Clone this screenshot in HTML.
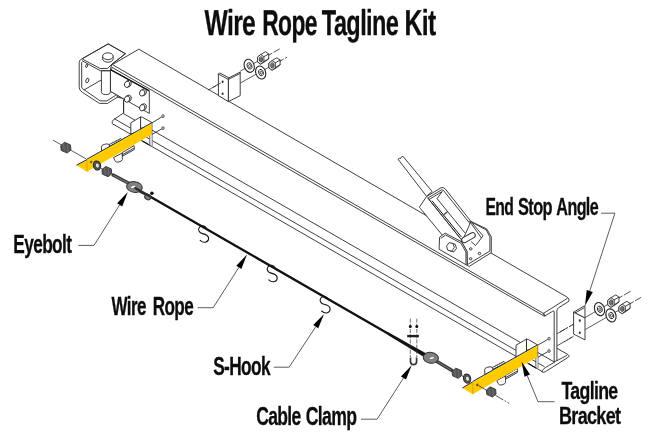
<!DOCTYPE html>
<html lang="en"><head><meta charset="utf-8"><title>Wire Rope Tagline Kit</title>
<style>
html,body{margin:0;padding:0;background:#fff;}
svg{display:block}
.l{fill:none;stroke:#2a2a2a;stroke-width:.9;stroke-linecap:round;stroke-linejoin:round}
.l2{fill:none;stroke:#111;stroke-width:1.2}
.l2b{fill:none;stroke:#111;stroke-width:1.0}
.pin1{stroke:#2a2a2a;stroke-width:6.2;stroke-linecap:round}
.pin2{stroke:#fff;stroke-width:4.4;stroke-linecap:round}
.tick{fill:none;stroke:#555;stroke-width:1.4}
.w{fill:#fff;stroke:#2a2a2a;stroke-width:.9;stroke-linejoin:round}
.g{fill:#e4e4e4;stroke:#888;stroke-width:.6}
.wk{fill:#fff;stroke:#222;stroke-width:1.1}
.wk2{fill:#fff;stroke:#222;stroke-width:.9}
.wk3{fill:#fff;stroke:#222;stroke-width:.7}
.thr{fill:#888;stroke:#333;stroke-width:.7}
.wkd{fill:#555;stroke:#222;stroke-width:1}
.wkh{fill:#e8e8e8;stroke:#222;stroke-width:.6}
.dk{fill:#565656;stroke:#333;stroke-width:.9;stroke-linejoin:round}
.hl{stroke:#777;stroke-width:.7;fill:none}
.thl{stroke:#555;stroke-width:.5;fill:none}
.cl{fill:none;stroke:#2a2a2a;stroke-width:.8;stroke-dasharray:9 1.6 1.6 1.6}
.cs{fill:none;stroke:#2a2a2a;stroke-width:.8;stroke-dasharray:16 1.4 1.8 1.4}
.cd{fill:none;stroke:#2a2a2a;stroke-width:.8;stroke-dasharray:5.5 1.6 8}
.cl2{fill:none;stroke:#333;stroke-width:.7;stroke-dasharray:4 1.2}
.dot{fill:#333;stroke:none}
.dot2{fill:#7a5a00;stroke:#333;stroke-width:.4}
.scr{fill:#ccc;stroke:#333;stroke-width:.7}
.y{fill:#ffcb00;stroke:none}
.yhi{stroke:#ffdc00;stroke-width:1;fill:none}
.navy{stroke:#1c2a55;stroke-width:1;fill:none}
.ysh{stroke:#c99700;stroke-width:.8;fill:none}
.shk1{stroke:#333;stroke-width:3.4;stroke-linecap:round}
.shk2{stroke:#707070;stroke-width:1.2;stroke-linecap:round}
.wire{stroke:#111;stroke-width:2.3;fill:none}
.wire2b{stroke:#2a2a2a;stroke-width:2.4;fill:none;stroke-linecap:round}
.hole2{fill:#fff;stroke:none}
.wire2{stroke:#222;stroke-width:1.6;fill:none}
.wire3{stroke:#222;stroke-width:1.2;fill:none}
.gr{fill:#808080;stroke:#333;stroke-width:1}
.blk{fill:#111;stroke:none}
.blkf{fill:#111;stroke:#111;stroke-width:.4}
.hole{fill:#f4f4f4;stroke:#333;stroke-width:.5}
.hook{fill:none;stroke:#111;stroke-width:1.1;stroke-linecap:round}
.saddle{stroke:#222;stroke-width:2.4}
.ubolt{fill:none;stroke:#383838;stroke-width:1.7}
.ld{fill:none;stroke:#333;stroke-width:.8}
.ah{fill:#000;stroke:none}
svg{will-change:transform}
text{font-family:"Liberation Sans",sans-serif;font-weight:bold;fill:#0d0d0d;letter-spacing:-0.9px;stroke:#0d0d0d;stroke-width:.3px;stroke-linejoin:round}
</style></head>
<body>
<svg width="650" height="447" viewBox="0 0 650 447">
<rect width="650" height="447" fill="#fff"/>
<path class="w" d="M112.4,64.6 L138.8,49.2 L567.3,297.2 Q569.6,298.6 568.9,301.3 L558.6,307.7 Q556.9,308.8 556.9,311 L556.9,360.4 L554.2,362 L554.2,312 Q554.2,310.3 552.6,311.3 L544.9,315.9 L543.4,313.4 Z" />
<line class="l" x1="543.7" y1="313.2" x2="567.3" y2="298.4" />
<line class="l" x1="111.8" y1="67.2" x2="544.3" y2="316.2" />
<path class="l" d="M543.7,313.2 Q543.2,315 544.9,315.9" />
<line class="l" x1="123.8" y1="113.78" x2="554.2" y2="361.95" />
<line class="l" x1="114.6" y1="118.87" x2="544.2" y2="366.58" />
<line class="l" x1="114" y1="124.63" x2="542.6" y2="371.76" />
<line class="l2" x1="142.3" y1="140.9" x2="151.2" y2="146.1" />
<line class="l2" x1="528.4" y1="363.6" x2="536.2" y2="368.2" />
<path class="l" d="M123.6,100 L123.6,113 L113.6,119.6 Q111.6,121.5 112.3,123.5 Q112.6,125 114,124.63" />
<path class="l" d="M557.3,348.5 L567.9,354.5 Q570.2,355.8 568.3,357.2 L545.5,371.6 Q543.5,372.9 541.8,371.8" />
<line class="l" x1="566.7" y1="355.5" x2="557" y2="360.6" />
<path class="l" d="M554.3,362.3 L545.4,367.6 Q543.4,368.6 542.4,370.4" />
<path class="w" d="M81.7,59 Q79.2,60 79.2,62.5 L79.2,87.4 Q79.4,90.6 82.3,92.3 L99.5,103.4 L107.5,103.4 L117.4,97.2 L123.5,98.5 L110.5,91 L110.5,69 L111.8,64.3 L125.4,53.7 L108.2,43.9 Z" />
<path class="l" d="M83,58.3 L108.2,43.9 L125.4,53.7 L111.8,64.3 L107.5,68.5 L100.2,68.5 L82.6,59.2" />
<polyline class="l" points="82.3,60.8 100.2,70.7 109.4,70.7 112,68.6" />
<path class="l" d="M81.7,62.4 L81.7,87 Q81.9,88.9 84.2,89.8 L100.2,100.9 L106.9,100.9 L115.5,95.4" />
<line class="l" x1="84.2" y1="89.8" x2="100.8" y2="80.3" />
<ellipse class="w" cx="86.6" cy="65.8" rx="1" ry="1.7" transform="rotate(20 86.6 65.8)" />
<ellipse class="w" cx="87.3" cy="80.5" rx="1.4" ry="2.4" transform="rotate(20 87.3 80.5)" />
<path class="w" d="M101.4,70.9 L101.4,91.5 A4.5,3.1 0 0 0 110.4,91.5 L110.4,70.9 Z" />
<line class="l" x1="110.4" y1="91.3" x2="123.5" y2="98.7" />
<line class="l" x1="117.4" y1="95.3" x2="117.4" y2="97.2" />
<path class="w" d="M102.6,56.3 L102.6,58.8 A5.3,3.4 0 0 0 113.2,58.8 L113.2,56.3" />
<ellipse class="w" cx="107.9" cy="56.2" rx="5.3" ry="3.4" />
<polygon class="w" points="110.5,69.6 149.3,90.9 149.3,113.4 110.5,91.4" />
<line class="l2" x1="110.5" y1="69.6" x2="149.3" y2="90.9" />
<ellipse class="w" cx="128.5" cy="83.6" rx="2.7" ry="3.3" transform="rotate(18 128.5 83.6)" />
<ellipse class="w" cx="127.1" cy="84.3" rx="2.6" ry="3.2" transform="rotate(18 127.1 84.3)" />
<ellipse class="w" cx="143.6" cy="92.2" rx="2.7" ry="3.3" transform="rotate(18 143.6 92.2)" />
<ellipse class="w" cx="142.2" cy="92.9" rx="2.6" ry="3.2" transform="rotate(18 142.2 92.9)" />
<ellipse class="w" cx="128.5" cy="98.4" rx="2.7" ry="3.3" transform="rotate(18 128.5 98.4)" />
<ellipse class="w" cx="127.1" cy="99.1" rx="2.6" ry="3.2" transform="rotate(18 127.1 99.1)" />
<ellipse class="w" cx="143.6" cy="107" rx="2.7" ry="3.3" transform="rotate(18 143.6 107)" />
<ellipse class="w" cx="142.2" cy="107.7" rx="2.6" ry="3.2" transform="rotate(18 142.2 107.7)" />
<line class="l" x1="123.6" y1="100.2" x2="123.6" y2="113" />
<line class="cl" x1="208.3" y1="90.1" x2="222.6" y2="81.8" />
<line class="ld" x1="240.2" y1="71.2" x2="263.1" y2="58.2" />
<line class="cd" x1="267.5" y1="55.8" x2="279.7" y2="48.9" />
<line class="ld" x1="240.2" y1="83.1" x2="274.5" y2="64.1" />
<line class="cd" x1="278.9" y1="61.7" x2="287.1" y2="57.2" />
<polygon class="w" points="218.4,74.1 228.4,79.4 228.4,101.6 218.4,95.6" />
<polygon class="w" points="228.4,79.4 240.2,73.4 240.2,95.6 228.4,101.6" />
<polyline class="l" points="218.4,74.1 219.6,72.9 229,77.9 240.2,72 240.2,73.4" />
<polyline class="l" points="229,77.9 228.4,79.4" />
<ellipse class="dot" cx="222.6" cy="81.8" rx="1" ry="1.3" />
<ellipse class="dot" cx="222.6" cy="93.8" rx="1" ry="1.3" />
<line class="cl" x1="213" y1="87.4" x2="222.6" y2="81.8" />
<ellipse class="wk" cx="249.2" cy="65.8" rx="4.9" ry="6.7" transform="rotate(-20 249.2 65.8)" />
<ellipse class="wk2" cx="249.5" cy="65.9" rx="2.3" ry="3.3" transform="rotate(-20 249.5 65.9)" />
<ellipse class="wk3" cx="249.7" cy="66" rx="1" ry="1.6" transform="rotate(-20 249.7 66)" />
<ellipse class="wk" cx="260.7" cy="72.5" rx="4.9" ry="6.7" transform="rotate(-20 260.7 72.5)" />
<ellipse class="wk2" cx="261" cy="72.6" rx="2.3" ry="3.3" transform="rotate(-20 261 72.6)" />
<ellipse class="wk3" cx="261.2" cy="72.7" rx="1" ry="1.6" transform="rotate(-20 261.2 72.7)" />
<polygon class="w" points="260.7,64.1 257.5,61.9 257.5,57.1 260.7,54.5 265.5,51.7 268.7,53.9 268.7,58.7 265.5,61.3" />
<polygon class="w" points="260.7,54.5 263.9,56.7 263.9,61.5 260.7,64.1 257.5,61.9 257.5,57.1" />
<line class="l" x1="263.9" y1="56.7" x2="268.7" y2="53.9" />
<line class="l" x1="263.9" y1="61.5" x2="268.7" y2="58.7" />
<ellipse class="wk2" cx="260.9" cy="59.3" rx="1.7" ry="2.6" />
<ellipse class="thr" cx="261.1" cy="59.3" rx="0.9" ry="1.6" />
<polygon class="w" points="272.1,70.2 268.9,68 268.9,63.2 272.1,60.6 276.9,57.8 280.1,60 280.1,64.8 276.9,67.4" />
<polygon class="w" points="272.1,60.6 275.3,62.8 275.3,67.6 272.1,70.2 268.9,68 268.9,63.2" />
<line class="l" x1="275.3" y1="62.8" x2="280.1" y2="60" />
<line class="l" x1="275.3" y1="67.6" x2="280.1" y2="64.8" />
<ellipse class="wk2" cx="272.3" cy="65.4" rx="1.7" ry="2.6" />
<ellipse class="thr" cx="272.5" cy="65.4" rx="0.9" ry="1.6" />
<polygon class="w" points="130.8,122.8 140.6,116.9 140.6,131 130.8,134" />
<polygon class="w" points="140.6,116.9 142.5,117.3 151.9,122.5 151.9,146 149.8,145 149.8,128 140.6,128" />
<polygon class="g" points="149.8,134 152.2,134 152.2,146.2 149.8,145" />
<line class="l" x1="152" y1="122.9" x2="161.6" y2="117" />
<line class="l" x1="152.4" y1="134.2" x2="161.6" y2="129" />
<ellipse class="scr" cx="163" cy="116.1" rx="1.25" ry="1.45" />
<ellipse class="scr" cx="163" cy="128.1" rx="1.25" ry="1.45" />
<path class="w" d="M101.7,151.6 L101.4,147.1 Q101.6,144.7 104.3,144.4 L106.8,143.9 Q109.4,143.7 110,146.1 L110.6,148.6 Z" />
<path class="w" d="M110.2,147.9 L109.4,144.4 L120.8,138.5 L121.9,139.7 L122.8,143.1 Z" />
<line class="l" x1="110" y1="146.4" x2="121.3" y2="140.6" />
<line class="thl" x1="111.88" y1="143.22" x2="112.38" y2="145.12" />
<line class="thl" x1="114.16" y1="142.04" x2="114.66" y2="143.94" />
<line class="thl" x1="116.44" y1="140.86" x2="116.94" y2="142.76" />
<line class="thl" x1="118.72" y1="139.68" x2="119.22" y2="141.58" />
<path class="w" d="M113.6,157.6 L114.8,160.6 Q116.1,162.7 118.8,162 L121.4,160.9 Q122.8,159.7 122.4,157.3 L122,153.1 Z" />
<path class="w" d="M122.3,152.6 L122.7,156.1 L134.1,149.7 L134.5,147.7 L134,145.6 Z" />
<line class="l" x1="123.2" y1="154.3" x2="133.7" y2="148.3" />
<line class="thl" x1="125.2" y1="154.66" x2="124.8" y2="152.86" />
<line class="thl" x1="127.4" y1="153.42" x2="127" y2="151.62" />
<line class="thl" x1="129.6" y1="152.18" x2="129.2" y2="150.38" />
<line class="thl" x1="131.8" y1="150.94" x2="131.4" y2="149.14" />
<line class="ld" x1="53.1" y1="140.2" x2="86.2" y2="158.9" />
<polygon class="dk" points="60.7,145.7 64.6,142.3 70.5,144.9 70.9,150 67.1,153 61.2,150.4" />
<line class="hl" x1="63.5" y1="143.8" x2="64.3" y2="151.4" />
<line class="hl" x1="67.4" y1="144.2" x2="68" y2="151.6" />
<polygon class="y" points="76.5,165.2 86.9,159.6 86.9,171.7" />
<polygon class="y" points="86.9,159.6 151.7,123.2 151.7,134.5 86.9,171.7" />
<line class="yhi" x1="86.9" y1="160.3" x2="151.7" y2="123.9" />
<line class="navy" x1="86.9" y1="159.2" x2="151.7" y2="122.8" />
<line class="navy" x1="76.5" y1="165.2" x2="86.9" y2="159.6" />
<line class="ysh" x1="86.9" y1="160.2" x2="86.9" y2="171.5" />
<ellipse class="dot2" cx="91.1" cy="162" rx="0.9" ry="1.1" />
<ellipse class="wkd" cx="97" cy="165.5" rx="3.6" ry="4.6" transform="rotate(-15 97 165.5)" />
<ellipse class="wkh" cx="97.4" cy="165.6" rx="1.9" ry="2.6" transform="rotate(-15 97.4 165.6)" />
<line class="cl" x1="99.5" y1="167.3" x2="103" y2="169.2" />
<polygon class="dk" points="101.9,169.67 105.65,166.4 111.31,168.9 111.7,173.8 108.05,176.68 102.38,174.18" />
<line class="hl" x1="104.59" y1="167.84" x2="105.36" y2="175.14" />
<line class="hl" x1="108.34" y1="168.23" x2="108.91" y2="175.33" />
<line class="shk1" x1="113.1" y1="175.1" x2="129.2" y2="183.6" />
<line class="shk2" x1="113.6" y1="175.4" x2="129.2" y2="183.6" />
<line class="wire" x1="150" y1="196.42" x2="407" y2="344.61" />
<line class="wire3" x1="139" y1="191.6" x2="150" y2="197.22" />
<ellipse class="gr" cx="147.8" cy="197" rx="3.2" ry="2.6" transform="rotate(30 147.8 197)" />
<ellipse class="blk" cx="151.9" cy="193.2" rx="1.8" ry="1.8" />
<ellipse class="gr" cx="134.4" cy="187" rx="7.9" ry="5.4" transform="rotate(8 134.4 187)" />
<line class="wire2b" x1="135.5" y1="188.2" x2="150" y2="196.22" />
<ellipse class="hole2" cx="133.2" cy="186.9" rx="2.3" ry="0.9" transform="rotate(-20 133.2 186.9)" />
<path class="hook" d="M206.3,228.2 C205.5,225.3 201.3,224.8 199.4,227.3 C197.3,230.2 199.5,233 202.5,233.6 C205.5,234.2 208.4,235.2 208.6,238.2 C208.8,242 204,244 200.2,240.3" />
<path class="hook" d="M274.9,267.7 C274.1,264.8 269.9,264.3 268,266.8 C265.9,269.7 268.1,272.5 271.1,273.1 C274.1,273.7 277,274.7 277.2,277.7 C277.4,281.5 272.6,283.5 268.8,279.8" />
<path class="hook" d="M327.8,298.9 C327,296 322.8,295.5 320.9,298 C318.8,300.9 321,303.7 324,304.3 C327,304.9 329.9,305.9 330.1,308.9 C330.3,312.7 325.5,314.7 321.7,311" />
<path class="blkf" d="M388,332.55 L426.5,353.85 L425,357.38 L388,334.75 Z" />
<line class="cl2" x1="410.3" y1="318.6" x2="410.3" y2="357" />
<line class="cl2" x1="416.8" y1="318.6" x2="416.8" y2="357" />
<ellipse class="blk" cx="410.3" cy="326.6" rx="1.5" ry="1.5" />
<ellipse class="blk" cx="416.8" cy="326.6" rx="1.5" ry="1.5" />
<line class="saddle" x1="407.2" y1="336.1" x2="418.9" y2="336.1" />
<path class="ubolt" d="M410.5,357.4 L410.5,361.6 A3.05,3.05 0 0 0 416.6,361.6 L416.6,357.4" />
<line class="shk1" x1="436.9" y1="361.5" x2="451.7" y2="370.2" />
<line class="shk2" x1="436.9" y1="361.5" x2="451.2" y2="369.9" />
<ellipse class="gr" cx="430.8" cy="357.8" rx="7.6" ry="5.4" transform="rotate(8 430.8 357.8)" />
<ellipse class="hole2" cx="431.8" cy="358" rx="2.2" ry="0.9" transform="rotate(-15 431.8 358)" />
<polygon class="dk" points="452.05,371.38 455.76,368.15 461.36,370.62 461.75,375.47 458.13,378.32 452.53,375.85" />
<line class="hl" x1="454.71" y1="369.58" x2="455.47" y2="376.8" />
<line class="hl" x1="458.42" y1="369.96" x2="458.99" y2="376.99" />
<line class="cl" x1="461.5" y1="375.6" x2="464" y2="377" />
<ellipse class="wkd" cx="467.1" cy="378.6" rx="3.6" ry="4.7" transform="rotate(-15 467.1 378.6)" />
<ellipse class="wkh" cx="467.5" cy="378.7" rx="1.9" ry="2.6" transform="rotate(-15 467.5 378.7)" />
<polygon class="w" points="516,345.2 526.5,339.1 526.5,353 516,358" />
<polygon class="w" points="526.5,339.1 528.2,339.4 537.7,345 537.7,368.3 536,367.4 536,350 526.5,350" />
<line class="l" x1="526.5" y1="339.1" x2="526.5" y2="351.5" />
<polygon class="g" points="536,356.5 538,356.5 538,368.5 536,367.4" />
<line class="l" x1="537.9" y1="345.1" x2="547.4" y2="339.6" />
<line class="l" x1="538.2" y1="357.1" x2="547.4" y2="351.9" />
<ellipse class="scr" cx="549" cy="338.7" rx="1.25" ry="1.45" />
<ellipse class="scr" cx="549" cy="351" rx="1.25" ry="1.45" />
<line class="cl" x1="557.2" y1="333.64" x2="573.4" y2="324.29" />
<line class="ld" x1="585.2" y1="317.48" x2="613.4" y2="301.21" />
<line class="cd" x1="617.8" y1="298.67" x2="630.7" y2="291.23" />
<line class="cl" x1="557.2" y1="345.74" x2="573.4" y2="336.39" />
<line class="ld" x1="585.2" y1="329.58" x2="624.5" y2="306.91" />
<line class="cd" x1="628.9" y1="304.37" x2="641.1" y2="297.33" />
<line class="cl" x1="560" y1="332" x2="573.4" y2="324.29" />
<line class="cl" x1="564" y1="342" x2="573.4" y2="336.39" />
<path class="w" d="M484.9,374.5 L484.6,370 Q484.8,367.6 487.5,367.3 L490,366.8 Q492.6,366.6 493.2,369 L493.8,371.5 Z" />
<path class="w" d="M493.4,370.8 L492.6,367.3 L504,361.4 L505.1,362.6 L506,366 Z" />
<line class="l" x1="493.2" y1="369.3" x2="504.5" y2="363.5" />
<line class="thl" x1="495.08" y1="366.12" x2="495.58" y2="368.02" />
<line class="thl" x1="497.36" y1="364.94" x2="497.86" y2="366.84" />
<line class="thl" x1="499.64" y1="363.76" x2="500.14" y2="365.66" />
<line class="thl" x1="501.92" y1="362.58" x2="502.42" y2="364.48" />
<path class="w" d="M496.8,380.5 L498,383.5 Q499.3,385.6 502,384.9 L504.6,383.8 Q506,382.6 505.6,380.2 L505.2,376 Z" />
<path class="w" d="M505.5,375.5 L505.9,379 L517.3,372.6 L517.7,370.6 L517.2,368.5 Z" />
<line class="l" x1="506.4" y1="377.2" x2="516.9" y2="371.2" />
<line class="thl" x1="508.4" y1="377.56" x2="508" y2="375.76" />
<line class="thl" x1="510.6" y1="376.32" x2="510.2" y2="374.52" />
<line class="thl" x1="512.8" y1="375.08" x2="512.4" y2="373.28" />
<line class="thl" x1="515" y1="373.84" x2="514.6" y2="372.04" />
<polygon class="y" points="462.3,388 472.8,381.8 472.8,394.2" />
<polygon class="y" points="472.8,381.8 537.5,345.2 537.5,356.9 472.8,394.2" />
<line class="yhi" x1="472.8" y1="382.5" x2="537.5" y2="345.9" />
<line class="navy" x1="472.8" y1="381.4" x2="537.5" y2="344.8" />
<line class="navy" x1="462.3" y1="388" x2="472.8" y2="381.8" />
<line class="ysh" x1="472.8" y1="382.4" x2="472.8" y2="394" />
<ellipse class="dot2" cx="477.3" cy="384.9" rx="0.9" ry="1.1" />
<line class="cl" x1="478.5" y1="385.6" x2="486.5" y2="390.2" />
<line class="cl" x1="495.5" y1="395.4" x2="509.2" y2="403.4" />
<polygon class="dk" points="486.35,390.08 490.06,386.85 495.66,389.32 496.05,394.17 492.44,397.02 486.83,394.55" />
<line class="hl" x1="489.01" y1="388.28" x2="489.77" y2="395.5" />
<line class="hl" x1="492.72" y1="388.66" x2="493.29" y2="395.69" />
<polygon class="w" points="573.6,312.2 584.9,305.6 585,318.1" />
<polyline class="l" points="575.2,313 583.9,307.9" />
<polygon class="w" points="573.6,312.2 585,318.1 585,339.9 573.6,334.1" />
<ellipse class="dot" cx="579.8" cy="320.6" rx="1" ry="1.3" />
<ellipse class="dot" cx="579.8" cy="332.7" rx="1" ry="1.3" />
<ellipse class="wk" cx="599.5" cy="309.1" rx="4.9" ry="6.7" transform="rotate(-20 599.5 309.1)" />
<ellipse class="wk2" cx="599.8" cy="309.2" rx="2.3" ry="3.3" transform="rotate(-20 599.8 309.2)" />
<ellipse class="wk3" cx="600" cy="309.3" rx="1" ry="1.6" transform="rotate(-20 600 309.3)" />
<ellipse class="wk" cx="611" cy="315.4" rx="4.9" ry="6.7" transform="rotate(-20 611 315.4)" />
<ellipse class="wk2" cx="611.3" cy="315.5" rx="2.3" ry="3.3" transform="rotate(-20 611.3 315.5)" />
<ellipse class="wk3" cx="611.5" cy="315.6" rx="1" ry="1.6" transform="rotate(-20 611.5 315.6)" />
<polygon class="w" points="611,307.3 607.8,305.1 607.8,300.3 611,297.7 615.8,294.9 619,297.1 619,301.9 615.8,304.5" />
<polygon class="w" points="611,297.7 614.2,299.9 614.2,304.7 611,307.3 607.8,305.1 607.8,300.3" />
<line class="l" x1="614.2" y1="299.9" x2="619" y2="297.1" />
<line class="l" x1="614.2" y1="304.7" x2="619" y2="301.9" />
<ellipse class="wk2" cx="611.2" cy="302.5" rx="1.7" ry="2.6" />
<ellipse class="thr" cx="611.4" cy="302.5" rx="0.9" ry="1.6" />
<polygon class="w" points="622.1,313.7 618.9,311.5 618.9,306.7 622.1,304.1 626.9,301.3 630.1,303.5 630.1,308.3 626.9,310.9" />
<polygon class="w" points="622.1,304.1 625.3,306.3 625.3,311.1 622.1,313.7 618.9,311.5 618.9,306.7" />
<line class="l" x1="625.3" y1="306.3" x2="630.1" y2="303.5" />
<line class="l" x1="625.3" y1="311.1" x2="630.1" y2="308.3" />
<ellipse class="wk2" cx="622.3" cy="308.9" rx="1.7" ry="2.6" />
<ellipse class="thr" cx="622.5" cy="308.9" rx="0.9" ry="1.6" />
<path class="w" d="M398,159.2 L399.6,158.2 L400.3,158.9 L401,157.4 L402.9,156.2 L432.1,191.5 L426.5,196.2 Z" />
<path class="w" d="M426.5,196.6 L440.9,187.8 Q443,186.6 445.5,189.2 L471,221.5 L483,235.9 L475.6,245.5 L461.7,241.7 L442.6,235.5 L420.5,208.6 Q419.2,207.6 419.6,206.8 Z" />
<polyline class="l" points="427.9,198 441.8,189.7 443.6,190.6 481.2,237.7" />
<polyline class="l" points="429.3,199.4 442.2,191.5 437.2,198.5" />
<line class="l" x1="427.9" y1="198" x2="462.6" y2="241.2" />
<line class="l" x1="428.9" y1="199.4" x2="459.6" y2="237.6" />
<line class="l2b" x1="432" y1="200.8" x2="461.3" y2="236.8" />
<line class="l" x1="437.4" y1="199" x2="464.7" y2="232.6" />
<line class="tick" x1="442.9" y1="215.3" x2="447.3" y2="211.9" />
<path class="w" d="M439.6,237.2 L445.2,233.1 L461.8,241.9 L467.2,251.4 L467.4,265.5 L439.1,249.3 Z" />
<path class="l" d="M441.1,238.2 L445.6,235 L460.9,243.2 L465.9,252 L466,264.5" />
<path class="w" d="M467.2,251.4 L461.8,241.9 L471,221.5 L486.7,228.9 L491.3,236.8 L491.3,252.6 L469.2,266.4 L467.4,265.5 Z" />
<polyline class="l" points="472.6,222.6 486.2,229.9 489.9,236.8 489.9,251 468.6,263.9" />
<polyline class="l" points="471,221.5 483,235.9 475.6,245.5 471.5,241.9" />
<line class="l" x1="469.4" y1="221" x2="481.2" y2="237.7" />
<line class="pin1" x1="464.4" y1="240" x2="472.6" y2="235.3" />
<line class="pin2" x1="464.4" y1="240" x2="472.6" y2="235.3" />
<ellipse class="w" cx="470.7" cy="248.9" rx="1.3" ry="1.2" />
<ellipse class="w" cx="479.4" cy="253.5" rx="1.3" ry="1.2" />
<ellipse class="w" cx="470.7" cy="258.8" rx="1.3" ry="1.2" />
<polygon class="w" points="456.5,248.38 453.95,251.83 450.05,251.05 448.7,246.82 451.25,243.37 455.15,244.15" />
<polygon class="w" points="454.3,247.68 451.75,251.13 447.85,250.35 446.5,246.12 449.05,242.67 452.95,243.45" />
<polyline class="ld" points="78.3,245.4 94,245.4 119.67,204.84" />
<polygon class="ah" points="127.8,192 122.21,206.45 117.14,203.24" />
<polyline class="ld" points="197.7,307.7 213.2,307.7 238.84,267.42" />
<polygon class="ah" points="247,254.6 241.37,269.03 236.31,265.81" />
<polyline class="ld" points="273.8,367.2 289.1,367.2 315.75,326.7" />
<polygon class="ah" points="324.1,314 318.25,328.35 313.24,325.05" />
<polyline class="ld" points="361,419.2 377.1,419.2 403.5,378" />
<polygon class="ah" points="411.7,365.2 406.03,379.62 400.97,376.38" />
<polyline class="ld" points="601.1,213.2 614.9,213.2 589.77,290.95" />
<polygon class="ah" points="585,305.7 586.72,289.97 592.81,291.94" />
<polyline class="ld" points="554.5,401.7 538,401.7 527.28,375.66" />
<polygon class="ah" points="521.5,361.6 530.06,374.52 524.51,376.8" />
<text y="34.6" font-size="36" transform="rotate(0.03)"><tspan x="204.54" textLength="50.66" lengthAdjust="spacingAndGlyphs">Wire</tspan> <tspan x="262.18" textLength="54.74" lengthAdjust="spacingAndGlyphs">Rope</tspan> <tspan x="321.89" textLength="76.4" lengthAdjust="spacingAndGlyphs">Tagline</tspan> <tspan x="404.6" textLength="31.03" lengthAdjust="spacingAndGlyphs">Kit</tspan></text>
<text y="253" font-size="25.3"><tspan x="13.36" textLength="57.96" lengthAdjust="spacingAndGlyphs">Eyebolt</tspan></text>
<text y="314.9" font-size="25.3"><tspan x="111.53" textLength="34.28" lengthAdjust="spacingAndGlyphs">Wire</tspan> <tspan x="152.77" textLength="40.33" lengthAdjust="spacingAndGlyphs">Rope</tspan></text>
<text y="374.6" font-size="25.3"><tspan x="213.17" textLength="56.74" lengthAdjust="spacingAndGlyphs">S-Hook</tspan></text>
<text y="424.8" font-size="25.3"><tspan x="256.18" textLength="44.38" lengthAdjust="spacingAndGlyphs">Cable</tspan> <tspan x="305.63" textLength="50.7" lengthAdjust="spacingAndGlyphs">Clamp</tspan></text>
<text y="215" font-size="23.8"><tspan x="485.52" textLength="27.79" lengthAdjust="spacingAndGlyphs">End</tspan> <tspan x="518.08" textLength="33.88" lengthAdjust="spacingAndGlyphs">Stop</tspan> <tspan x="556.37" textLength="41.73" lengthAdjust="spacingAndGlyphs">Angle</tspan></text>
<text y="399.2" font-size="24"><tspan x="561.49" textLength="55.97" lengthAdjust="spacingAndGlyphs">Tagline</tspan></text>
<text y="424.4" font-size="24"><tspan x="559.02" textLength="61.29" lengthAdjust="spacingAndGlyphs">Bracket</tspan></text>
</svg>
</body></html>
